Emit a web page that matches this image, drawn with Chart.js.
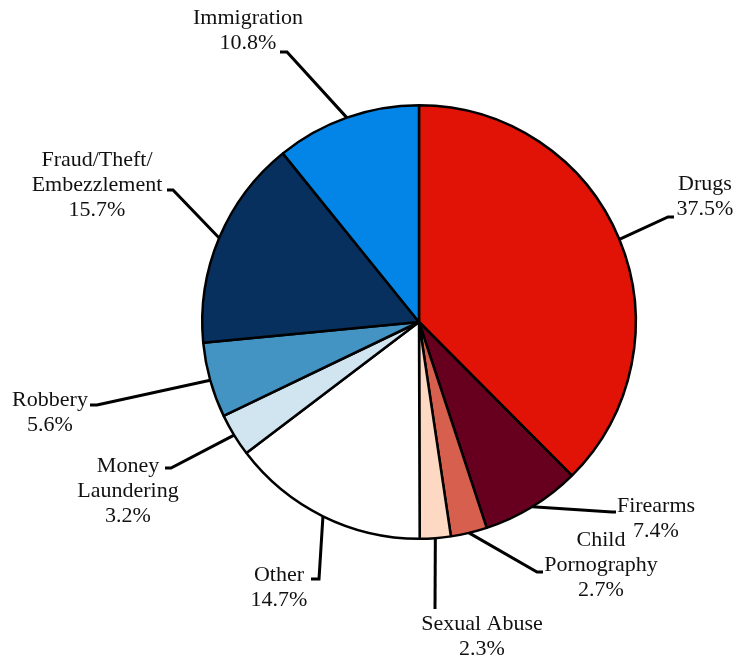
<!DOCTYPE html>
<html>
<head>
<meta charset="utf-8">
<script src="https://cdn.jsdelivr.net/npm/chart.js@4"></script>
<style>
  body { margin: 0; background: #fff; }
</style>
</head>
<body>
<canvas id="offensePie" width="734" height="659"></canvas>
<script>
// offense shares, clockwise from 12 o'clock
const categoryLines = [
    ['Drugs'], ['Firearms'], ['Child', 'Pornography'], ['Sexual Abuse'], ['Other'],
    ['Money', 'Laundering'], ['Robbery'], ['Fraud/Theft/', 'Embezzlement'], ['Immigration']
];
const categories = categoryLines.map(l => l.join(' '));
const shares = [37.5, 7.4, 2.7, 2.3, 14.7, 3.2, 5.6, 15.7, 10.8];
const sliceColors = ['#E01306', '#67001F', '#D6604D', '#FDD9C4', '#FFFFFF', '#D1E5F0', '#4393C3', '#08305E', '#0385E8'];

// where each label sits and how its leader line bends (layout only)
const labelLayout = [
    { x: 705, y: 184, elbow: [668, 217], end: [674, 217] },
    { x: 656, y: 506, elbow: [612, 512], end: [616, 512] },
    { x: 601, y: 540, elbow: [537, 572], end: [543, 572] },
    { x: 482, y: 624, elbow: [435, 609], end: [435, 609] },
    { x: 279, y: 575, elbow: [319, 579], end: [311, 579] },
    { x: 128, y: 466, elbow: [171, 468], end: [165, 468] },
    { x: 50, y: 400, elbow: [97, 405], end: [90, 405] },
    { x: 97, y: 160, elbow: [173, 190], end: [167, 190] },
    { x: 248, y: 18, elbow: [287, 52], end: [280, 52] }
];

const leaderLabels = {
    id: 'leaderLabels',
    afterDatasetsDraw(chart) {
        const ctx = chart.ctx;
        const arcs = chart.getDatasetMeta(0).data;
        ctx.save();
        ctx.strokeStyle = '#000';
        ctx.lineWidth = 3;
        ctx.fillStyle = '#111';
        ctx.font = '22px "Liberation Serif", "Times New Roman", serif';
        ctx.textAlign = 'center';
        ctx.textBaseline = 'middle';
        arcs.forEach((arc, i) => {
            const mid = (arc.startAngle + arc.endAngle) / 2;
            const sx = arc.x + Math.cos(mid) * arc.outerRadius;
            const sy = arc.y + Math.sin(mid) * arc.outerRadius;
            const lay = labelLayout[i];
            ctx.beginPath();
            ctx.moveTo(sx, sy);
            ctx.lineTo(lay.elbow[0], lay.elbow[1]);
            ctx.lineTo(lay.end[0], lay.end[1]);
            ctx.stroke();
            const lines = categoryLines[i].concat([shares[i].toFixed(1) + '%']);
            lines.forEach((t, k) => {
                ctx.fillText(t, lay.x, lay.y + k * 25);
            });
        });
        ctx.restore();
    }
};

new Chart(document.getElementById('offensePie').getContext('2d'), {
    type: 'pie',
    data: {
        labels: categories,
        datasets: [{
            data: shares,
            backgroundColor: sliceColors,
            borderColor: '#000',
            borderWidth: 2.5
        }]
    },
    options: {
        responsive: false,
        animation: false,
        devicePixelRatio: 1,
        layout: { padding: { left: 201, right: 97, top: 104, bottom: 119 } },
        plugins: {
            legend: { display: false },
            tooltip: { enabled: false }
        }
    },
    plugins: [leaderLabels]
});
</script>
</body>
</html>
